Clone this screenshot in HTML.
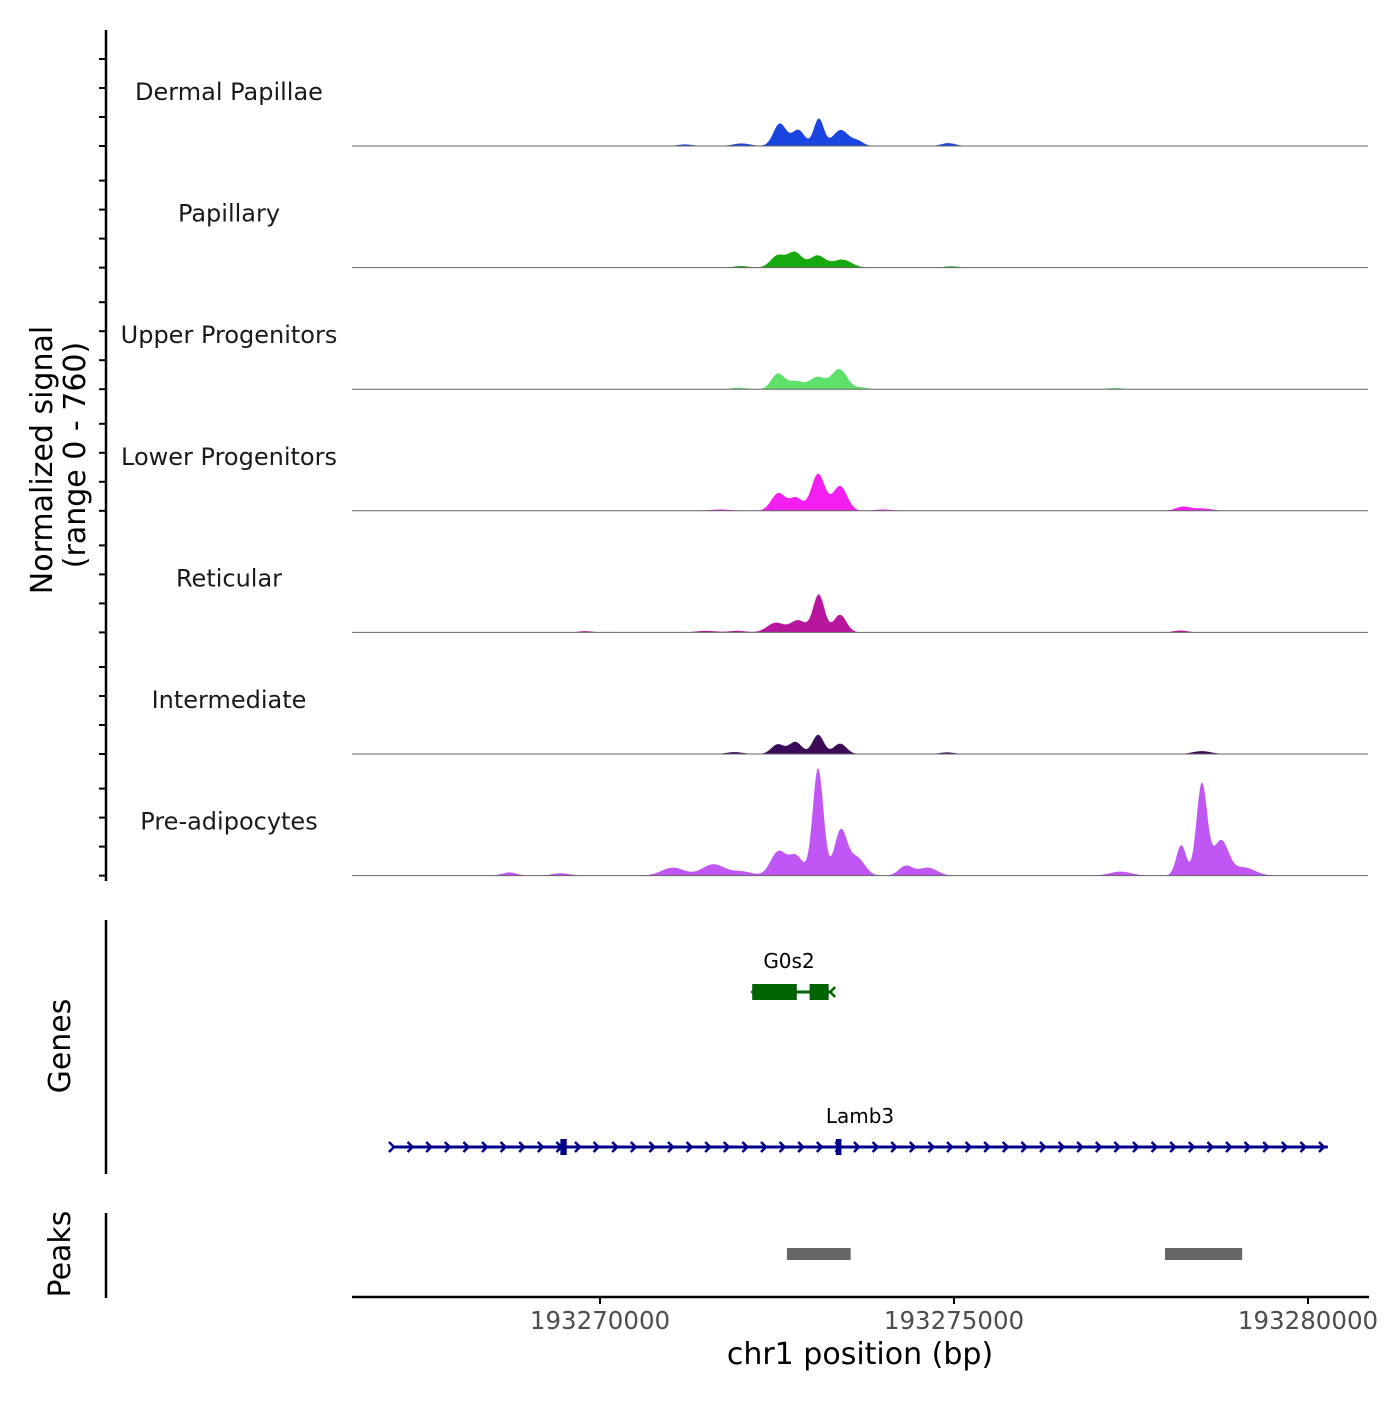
<!DOCTYPE html>
<html><head><meta charset="utf-8">
<style>
html,body{margin:0;padding:0;background:#fff;}
svg text{font-family:"DejaVu Sans","Liberation Sans",sans-serif;}
</style></head>
<body>
<svg id="chart" width="1400" height="1400" viewBox="0 0 1400 1400" xmlns="http://www.w3.org/2000/svg">
<g id="tracks"></g>
<g id="axes"></g>
<g id="genes"></g>
<g id="peaks"></g>
</svg>
<script>
// ---- data ----
const trackNames = ["Dermal Papillae","Papillary","Upper Progenitors","Lower Progenitors","Reticular","Intermediate","Pre-adipocytes"];
const trackColors = ["#1a45e0","#18a810","#5fe06a","#f21ff0","#b8169e","#3b0a58","#c057f5"];
// peaks: [position bp, signal, sigma bp]
const peaksDermal = [[193272540,140,90],[193272800,100,90],[193273090,170,70],[193273400,100,110],[193273640,30,80],[193274920,18,100],[193272000,16,120],[193271200,10,100]];
const peaksPapillary = [[193272510,75,100],[193272750,95,100],[193273070,75,110],[193273420,50,130],[193271990,10,100],[193274960,8,100]];
const peaksUpper = [[193272510,95,90],[193272760,50,110],[193273070,75,110],[193273380,125,110],[193271960,10,100],[193273700,10,80],[193277270,8,100]];
const peaksLower = [[193272520,110,100],[193272770,80,90],[193273080,230,95],[193273390,155,100],[193278230,25,100],[193278500,15,130],[193271700,8,150],[193274000,8,120]];
const peaksReticular = [[193272480,60,120],[193272800,75,110],[193273090,235,80],[193273390,110,90],[193271500,10,140],[193271940,10,120],[193278200,12,100],[193269790,8,100]];
const peaksIntermediate = [[193272510,60,90],[193272760,75,90],[193273080,120,80],[193273390,65,90],[193271900,12,120],[193278500,18,130],[193274900,10,100]];
const peaksPre = [[193272520,150,110],[193272770,120,100],[193273080,670,75],[193273400,280,90],[193273630,110,110],[193271600,70,160],[193271030,50,160],[193274320,60,100],[193274630,50,130],[193278210,190,70],[193278500,570,75],[193278780,130,100],[193279100,50,150],[193277350,25,150],[193272000,25,150],[193268720,20,100],[193269450,15,120],[193278750,90,120]];
const trackPeaks = [peaksDermal,peaksPapillary,peaksUpper,peaksLower,peaksReticular,peaksIntermediate,peaksPre];
const xTickValues = [193270000,193275000,193280000];
const xTickLabels = ["193270000","193275000","193280000"];
const signalMax = 760;
const genesData = [
 {name:"G0s2", start:193272150, end:193273280, strand:-1, row:0, exons:[[193272150,193272780],[193272960,193273230]]},
 {name:"Lamb3", start:193267090, end:193280280, strand:1, row:1, exons:[[193269440,193269530],[193273330,193273410]]}
];
const peakRegions = [[193272640,193273540],[193277980,193279070]];

// ---- scales ----
const NS="http://www.w3.org/2000/svg";
const X0=352,X1=1368, bp0=193266497, pxPerBp=354/5000;
function xScale(bp){return X0+(bp-bp0)*pxPerBp;}
const trackH=121.6, firstBottom=146;
function yBottom(i){return firstBottom+i*trackH;}
function yScale(v,i){return yBottom(i)-v/signalMax*trackH;}
function mk(tag,attrs,parent){const e=document.createElementNS(NS,tag);for(const k in attrs)e.setAttribute(k,attrs[k]);parent.appendChild(e);return e;}

const tracks=document.getElementById('tracks');
trackNames.forEach((name,i)=>{
  const pk=trackPeaks[i];
  let d="M"+X0+","+yBottom(i);
  for(let x=X0;x<=X1;x+=1){
    const bp=bp0+(x-X0)/pxPerBp;
    let v=0; pk.forEach(p=>{const z=(bp-p[0])/p[2];v+=p[1]*Math.exp(-0.5*z*z);});
    d+=" L"+x+","+yScale(Math.min(v,signalMax),i).toFixed(2);
  }
  d+=" L"+X1+","+yBottom(i)+" Z";
  const a=mk('path',{d:d,fill:trackColors[i]},tracks);
  
  
  const b=mk('line',{x1:X0,x2:X1,y1:yBottom(i),y2:yBottom(i),stroke:'#666','stroke-width':1},tracks);
  
  
  const t=mk('text',{x:229,y:yBottom(i)-46,'text-anchor':'middle','font-size':24,fill:'#1a1a1a'},tracks);
  t.textContent=name;
  
  
});

const axes=document.getElementById('axes');
function ln(x1,y1,x2,y2,w,name){const l=mk('line',{x1,y1,x2,y2,stroke:'#000','stroke-width':w},axes);return l;}
ln(106,30,106,881,2.5,'signal-y-axis');
for(let i=0;i<7;i++){for(let k=0;k<4;k++){const y=yBottom(i)-k*29;ln(99,y,106,y,2,'y-tick');}}
ln(106,920,106,1174,2.5,'genes-y-axis');
ln(106,1213,106,1298,2.5,'peaks-y-axis');
ln(352,1297,1369,1297,2.5,'x-axis-line');
xTickValues.forEach((v,j)=>{
  const x=xScale(v);
  ln(x,1297,x,1304,2,'x-tick');
  const t=mk('text',{x:x,y:1329,'text-anchor':'middle','font-size':24.5,fill:'#4d4d4d'},axes);
  t.textContent=xTickLabels[j];
  
  
});
function txt(s,attrs,name){const t=mk('text',attrs,axes);t.textContent=s;return t;}
txt("chr1 position (bp)",{x:860,y:1364,'text-anchor':'middle','font-size':30,fill:'#000'},'x-axis-title');
txt("Normalized signal",{x:0,y:0,'text-anchor':'middle','font-size':30,fill:'#000',transform:'translate(52,460) rotate(-90)'},'y-axis-title');
txt("(range 0 - 760)",{x:0,y:0,'text-anchor':'middle','font-size':30,fill:'#000',transform:'translate(85,455) rotate(-90)'},'y-axis-range');
txt("Genes",{x:0,y:0,'text-anchor':'middle','font-size':30,fill:'#000',transform:'translate(70,1046) rotate(-90)'},'genes-axis-title');
txt("Peaks",{x:0,y:0,'text-anchor':'middle','font-size':30,fill:'#000',transform:'translate(70,1254) rotate(-90)'},'peaks-axis-title');

const genes=document.getElementById('genes');
const geneColors=["#006400","#00008b"];
const rowY=[992,1147];
genesData.forEach((g,gi)=>{
  const c=geneColors[gi], y=rowY[g.row];
  const xs=xScale(g.start), xe=xScale(g.end);
  const l=mk('line',{x1:xs,x2:xe,y1:y,y2:y,stroke:c,'stroke-width':3},genes);
  
  
  const step=18.6;
  for(let x=xs; x<=xe+0.5; x+=step){
    const dx=5*g.strand;
    const p=mk('polyline',{points:(x-dx)+","+(y-5)+" "+x+","+y+" "+(x-dx)+","+(y+5),fill:'none',stroke:c,'stroke-width':2.5},genes);
    
    
    if(g.strand<0) break;
  }
  if(g.strand<0){const x=xe-2;const p=mk('polyline',{points:(x+5)+","+(y-5)+" "+x+","+y+" "+(x+5)+","+(y+5),fill:'none',stroke:c,'stroke-width':2.5},genes);
    }
  g.exons.forEach(e=>{
    const a=xScale(e[0]),b=xScale(e[1]);
    const r=mk('rect',{x:a,y:y-8,width:Math.max(b-a,5),height:16,fill:c},genes);
    
    
  });
  const t=mk('text',{x:gi==0?789:860,y:y-24,'text-anchor':'middle','font-size':20,fill:'#000'},genes);
  t.textContent=g.name;
  
  
});

const peaks=document.getElementById('peaks');
peakRegions.forEach(p=>{
  const r=mk('rect',{x:xScale(p[0]),y:1248,width:xScale(p[1])-xScale(p[0]),height:12,fill:'#666'},peaks);
  
  
});
</script>
</body></html>
